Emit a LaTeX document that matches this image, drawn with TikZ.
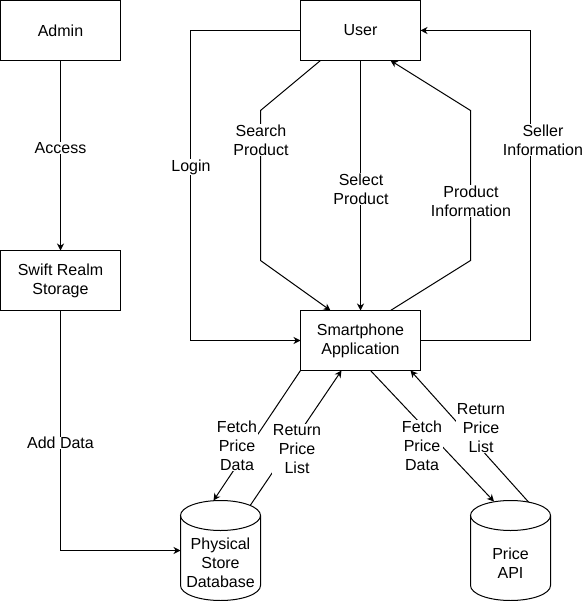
\documentclass[tikz,border=0pt]{standalone}
\usepackage{fontspec}
\setmainfont{Liberation Sans}
\usetikzlibrary{arrows.meta,calc}
\begin{document}
\begin{tikzpicture}[x=1pt,y=-1pt,
  every node/.style={font=\fontsize{16}{19}\selectfont},
  box/.style={draw, line width=1pt, minimum width=120pt, minimum height=60pt, inner sep=0pt, outer sep=0pt, align=center},
  lbl/.style={fill=white, inner sep=0.5pt, align=center},
  arr/.style={line width=1pt, -{Stealth[length=7pt,width=7pt,inset=2.2pt]}},
  ln/.style={line width=1pt}]
\fill[white] (0,0) rectangle (584,601);
\useasboundingbox (0,0) rectangle (584,601);

% boxes
\node[box] (admin) at (60.5,30.5) {Admin};
\node[box] (user) at (360.5,30.5) {User};
\node[box] (swift) at (60.5,280.5) {Swift Realm\\Storage};
\node[box] (app) at (360.5,340.5) {Smartphone\\Application};

% cylinders
\draw[ln,fill=white] (180.5,515.5) -- (180.5,585.5) arc[start angle=180,end angle=360,x radius=40pt,y radius=15pt] -- (260.5,515.5);
\draw[ln] (220.5,515.5) ellipse[x radius=40pt,y radius=15pt];
\draw[ln,fill=white] (470.5,515.5) -- (470.5,585.5) arc[start angle=180,end angle=360,x radius=40pt,y radius=15pt] -- (550.5,515.5);
\draw[ln] (510.5,515.5) ellipse[x radius=40pt,y radius=15pt];
\node[align=center] (phys) at (220.5,563) {Physical\\Store\\Database};
\node[align=center] (api) at (510.5,563) {Price\\API};

\coordinate (physW) at (180.5,550.5);
\coordinate (physTopA) at (213.5,500.5);
\coordinate (physTopB) at (250.5,505);
\coordinate (apiTopA) at (494,501.5);
\coordinate (apiTopB) at (528.5,502);

% connectors
\draw[arr] (admin) -- (swift);
\draw[arr] (swift.south) |- (physW);
\draw[arr] (user.west) -- ++(-110,0) |- (app.west);
\draw[arr] (app.east) -- ++(110,0) |- (user.east);
\draw[arr] ($(user.south west)+(20,0)$) -- (260.5,110.5) -- (260.5,260.5) -- ($(app.north west)+(30,0)$);
\draw[arr] (user) -- (app);
\draw[arr] ($(app.north west)+(90,0)$) -- (470.5,260.5) -- (470.5,110.5) -- ($(user.south west)+(90,0)$);
\draw[arr] (app.south west) -- (physTopA);
\draw[arr] (physTopB) -- ($(app.south west)+(41,0)$);
\draw[arr] ($(app.south west)+(70,0)$) -- (apiTopA);
\draw[arr] (apiTopB) -- ($(app.south west)+(110,0)$);

% labels
\node[lbl] (lAccess) at (60.5,148) {Access};
\node[lbl] (lAdd) at (60.5,443) {Add Data};
\node[lbl] (lLogin) at (191,167) {Login};
\node[lbl] (lSearch) at (261,140) {Search\\Product};
\node[lbl] (lSelect) at (361,189) {Select\\Product};
\node[lbl] (lPInfo) at (471,201) {Product\\Information};
\node[lbl] (lSeller) at (543,140) {Seller\\Information};
\node[lbl] (lFetchL) at (237,446) {Fetch\\Price\\Data};
\node[lbl] (lRetL) at (297,449) {Return\\Price\\List};
\node[lbl] (lFetchR) at (422,445.5) {Fetch\\Price\\Data};
\node[lbl] (lRetR) at (481,428) {Return\\Price\\List};
\end{tikzpicture}
\end{document}
